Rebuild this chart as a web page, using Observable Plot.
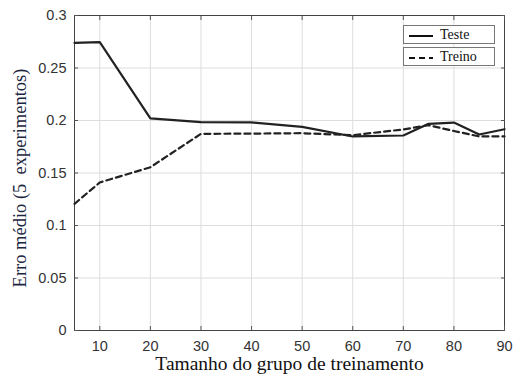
<!DOCTYPE html>
<html><head><meta charset="utf-8">
<script src="https://cdn.jsdelivr.net/npm/d3@7"></script>
<script src="https://cdn.jsdelivr.net/npm/@observablehq/plot@0.6"></script>
<style>
body{margin:0;background:#fff;}
#wrap{position:relative;width:515px;height:374px;}
.leg{position:absolute;left:403px;width:92px;height:19px;border:1px solid #777;background:#fff;box-sizing:border-box;font-family:"Liberation Serif",serif;font-size:14px;color:#111;}
.leg svg{position:absolute;left:3px;top:8px;}
.leg span{position:absolute;left:36px;top:0px;line-height:18px;}
</style>
</head><body>
<div id="wrap"></div>
<script>
const xs = [5, 10, 20, 30, 40, 50, 60, 70, 75, 80, 85, 90];
const teste = [0.274, 0.2746, 0.202, 0.1985, 0.1982, 0.194, 0.1848, 0.1857, 0.1968, 0.198, 0.1867, 0.1917];
const treino = [0.1206, 0.141, 0.1555, 0.1873, 0.1875, 0.1879, 0.186, 0.1915, 0.1955, 0.19, 0.1848, 0.1848];
const xTicks = [10, 20, 30, 40, 50, 60, 70, 80, 90];
const yTicks = [0, 0.05, 0.1, 0.15, 0.2, 0.25, 0.3];
const yTickLabels = ["0", "0.05", "0.1", "0.15", "0.2", "0.25", "0.3"];
const seriesNames = ["Teste", "Treino"];

const rows = [];
xs.forEach((x, i) => {
  rows.push({x, y: teste[i], s: seriesNames[0]});
  rows.push({x, y: treino[i], s: seriesNames[1]});
});

const chart = Plot.plot({
  width: 515, height: 374,
  marginLeft: 74, marginRight: 11, marginTop: 15, marginBottom: 44,
  style: {background: "#fff", fontFamily: "'Liberation Sans', Arial, sans-serif", fontSize: "14px", color: "#333"},
  x: {domain: [5, 90]},
  y: {domain: [0, 0.3]},
  marks: [
    Plot.gridX(xTicks, {stroke: "#ddd", strokeOpacity: 1}),
    Plot.gridY(yTicks, {stroke: "#ddd", strokeOpacity: 1}),
    Plot.frame({stroke: "#444", strokeWidth: 1}),
    Plot.axisX({ticks: xTicks, tickSize: -4, tickPadding: 14, stroke: "#555", fill: "#333", fontSize: 14.5, label: null}),
    Plot.axisX({ticks: xTicks, anchor: "top", tickSize: -4, tickFormat: () => "", stroke: "#555", label: null}),
    Plot.axisY({ticks: yTicks, tickSize: -4, tickPadding: 12, tickFormat: (d, i) => yTickLabels[i], stroke: "#555", fill: "#333", fontSize: 14.5, label: null}),
    Plot.axisY({ticks: yTicks, anchor: "right", tickSize: -4, tickFormat: () => "", stroke: "#555", label: null}),
    Plot.line(rows.filter(d => d.s === seriesNames[0]), {x: "x", y: "y", stroke: "#222", strokeWidth: 2.2}),
    Plot.line(rows.filter(d => d.s === seriesNames[1]), {x: "x", y: "y", stroke: "#222", strokeWidth: 2.2, strokeDasharray: "6,4"}),
    Plot.text(["Tamanho do grupo de treinamento"], {frameAnchor: "bottom", lineAnchor: "bottom", dy: 39, fontFamily: "'Liberation Serif', serif", fontSize: 19.5, fill: "#111"}),
    Plot.text(["Erro médio (5  experimentos)"], {frameAnchor: "left", dx: -54, dy: 5, rotate: -90, textAnchor: "middle", fontFamily: "'Liberation Serif', serif", fontSize: 18.5, fill: "#1a2540"})
  ]
});
const wrap = document.getElementById("wrap");
wrap.appendChild(chart);

const legTops = [25, 47];
const dashes = [null, "6,4"];
seriesNames.forEach((n, i) => {
  const d = document.createElement("div");
  d.className = "leg";
  d.style.top = legTops[i] + "px";
  d.innerHTML = `<svg width="28" height="4"><line x1="2" x2="26" y1="2" y2="2" stroke="#111" stroke-width="2"${dashes[i] ? ` stroke-dasharray="${dashes[i]}"` : ""}/></svg><span>${n}</span>`;
  wrap.appendChild(d);
});
</script>
</body></html>
